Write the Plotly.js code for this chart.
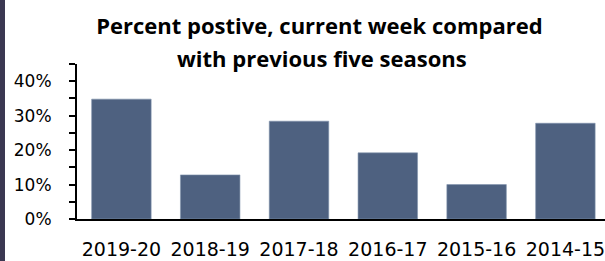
<!DOCTYPE html>
<html>
<head>
<meta charset="utf-8">
<script src="https://cdn.plot.ly/plotly-3.0.1.min.js"></script>
<style>
html,body{margin:0;padding:0;background:#fff;}
#chart{width:605px;height:261px;}
</style>
</head>
<body>
<div id="chart"></div>
<script>
const seasons = ["2019-20", "2018-19", "2017-18", "2016-17", "2015-16", "2014-15"];
const percentPositive = [34.8, 12.8, 28.4, 19.2, 10.0, 27.8];
const yTickValues = [0, 10, 20, 30, 40];
const yTickLabels = ["0%", "10%", "20%", "30%", "40%"];
const titleLine1 = "Percent postive, current week compared";
const titleLine2 = "with previous five seasons";

const trace = {
  type: "bar",
  x: seasons,
  y: percentPositive,
  width: 0.67,
  marker: {color: "#4e6180", line: {color: "#8293ad", width: 0.6}},
  hoverinfo: "x+y"
};

const layout = {
  width: 605,
  height: 261,
  margin: {l: 77, r: 0, t: 64, b: 42, pad: 0},
  paper_bgcolor: "#ffffff",
  plot_bgcolor: "#ffffff",
  showlegend: false,
  title: {
    text: "<b>" + titleLine1 + "</b>",
    font: {family: "Open Sans", size: 22, color: "#000000"},
    xref: "container", x: 0.528, xanchor: "center",
    yref: "container", y: 0.899, yanchor: "middle"
  },
  annotations: [{
    text: "<b>" + titleLine2 + "</b>",
    font: {family: "Open Sans", size: 22, color: "#000000"},
    xref: "paper", x: (321.7 - 77) / 528, xanchor: "center",
    yref: "paper", y: 1 + (64 - 58) / 155, yanchor: "middle",
    showarrow: false
  }],
  shapes: [{
    type: "rect", xref: "paper", yref: "paper",
    x0: -77 / 528, x1: -72 / 528, y0: -42 / 155, y1: 1 + 64 / 155,
    fillcolor: "#3b3852", line: {width: 0}, layer: "below"
  }],
  xaxis: {
    type: "category",
    range: [-0.5, 5.446],
    showline: true, linecolor: "#000000", linewidth: 2,
    ticks: "", showgrid: false, zeroline: false,
    tickfont: {family: "DejaVu Sans", size: 19, color: "#000000"},
    ticklabelstandoff: 12,
    fixedrange: true
  },
  yaxis: {
    range: [0, 45],
    tickvals: yTickValues,
    ticktext: yTickLabels,
    showline: true, linecolor: "#000000", linewidth: 2,
    ticks: "outside", ticklen: 6, tickwidth: 2, tickcolor: "#000000",
    minor: {dtick: 5, tick0: 0, ticks: "outside", ticklen: 6, tickwidth: 2, tickcolor: "#000000", showgrid: false},
    showgrid: false, zeroline: false,
    tickfont: {family: "DejaVu Sans", size: 17, color: "#000000"},
    ticklabelstandoff: 14,
    fixedrange: true
  }
};

Plotly.newPlot("chart", [trace], layout, {displayModeBar: false, staticPlot: true});
</script>
</body>
</html>
